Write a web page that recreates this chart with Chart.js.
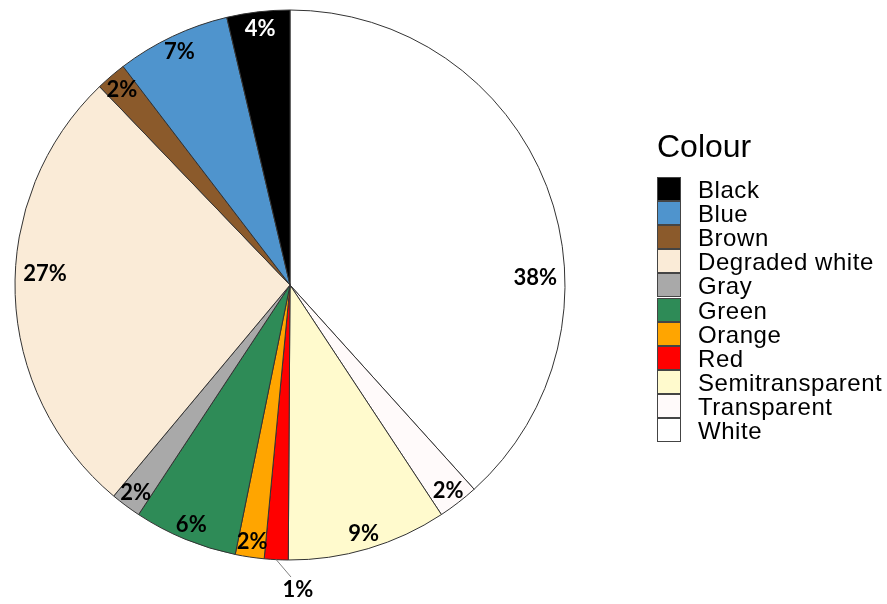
<!DOCTYPE html>
<html>
<head>
<meta charset="utf-8">
<script src="https://cdn.jsdelivr.net/npm/chart.js@4.4.1/dist/chart.umd.min.js"></script>
<style>
  html, body { margin: 0; padding: 0; background: #ffffff; }
  #wrap { position: relative; width: 887px; height: 604px; overflow: hidden; }
  #c { position: absolute; left: 0; top: 0; }
  #legend { position: absolute; left: 0; top: 0; font-family: "Liberation Sans", Arial, sans-serif; color: #000; }
  #legend .title { position: absolute; left: 657px; top: 130px; font-size: 32px; line-height: 32px; white-space: nowrap; }
  #legend .row { position: absolute; left: 657px; height: 24px; }
  #legend .box { position: absolute; left: 0; top: 0; width: 24px; height: 24px; box-sizing: border-box; border: 1px solid #444; }
  #legend .txt { position: absolute; left: 41px; top: 1px; font-size: 24px; line-height: 24px; letter-spacing: 0.55px; white-space: nowrap; }
</style>
</head>
<body>
<div id="wrap">
  <canvas id="c" width="887" height="604"></canvas>
  <div id="legend"></div>
</div>
<script>
// ---- data (legend order) ----
const categories = ['Black', 'Blue', 'Brown', 'Degraded white', 'Gray', 'Green', 'Orange', 'Red', 'Semitransparent', 'Transparent', 'White'];
const shares = [3.7, 6.7, 1.8, 26.8, 1.8, 6.1, 1.7, 1.4, 9.4, 2.4, 38.4];
const colours = ['#000000', '#4F94CD', '#8B5A2B', '#FAEBD7', '#A9A9A9', '#2E8B57', '#FFA500', '#FF0000', '#FFFACD', '#FFFAFA', '#FFFFFF'];
const legendTitle = 'Colour';

// pie is drawn clockwise from 12 o'clock in reverse legend order
const pieLabels = categories.slice().reverse();
const pieValues = shares.slice().reverse();
const pieColours = colours.slice().reverse();

const deg2canvas = d => d * Math.PI / 180 - Math.PI / 2;

const labelPlugin = {
  id: 'pctLabels',
  afterDatasetsDraw(chart, args, opts) {
    const ctx = chart.ctx;
    const meta = chart.getDatasetMeta(0);
    const data = chart.data.datasets[0].data;
    const total = data.reduce((a, b) => a + b, 0);
    ctx.save();
    ctx.font = opts.font;
    ctx.textAlign = 'center';
    ctx.textBaseline = 'middle';
    meta.data.forEach((arc, i) => {
      const p = arc.getProps(['x', 'y', 'startAngle', 'endAngle', 'outerRadius'], true);
      const name = chart.data.labels[i];
      const ov = opts.overrides[name] || {};
      const mid = (p.startAngle + p.endAngle) / 2;
      const ang = ov.angle !== undefined ? deg2canvas(ov.angle) : mid;
      const r = (ov.r !== undefined ? ov.r : opts.radius) * p.outerRadius;
      if (ov.leader) {
        const l = ov.leader;
        const la = deg2canvas(l.angle);
        ctx.strokeStyle = '#808080';
        ctx.lineWidth = 1;
        ctx.beginPath();
        ctx.moveTo(p.x + p.outerRadius * Math.cos(mid), p.y + p.outerRadius * Math.sin(mid));
        ctx.lineTo(p.x + l.r * p.outerRadius * Math.cos(la), p.y + l.r * p.outerRadius * Math.sin(la));
        ctx.stroke();
      }
      ctx.fillStyle = ov.color || '#000000';
      const txt = Math.round(data[i] / total * 100) + '%';
      ctx.fillText(txt, p.x + r * Math.cos(ang), p.y + r * Math.sin(ang) + 1);
    });
    ctx.restore();
  }
};

const chart = new Chart(document.getElementById('c'), {
  type: 'pie',
  data: {
    labels: pieLabels,
    datasets: [{
      data: pieValues,
      backgroundColor: pieColours,
      borderColor: '#333333',
      borderWidth: 1,
      hoverOffset: 0
    }]
  },
  options: {
    responsive: false,
    animation: false,
    radius: 275,
    layout: { padding: { left: 15, top: 10, right: 322, bottom: 44 } },
    plugins: {
      legend: { display: false },
      tooltip: { enabled: false },
      pctLabels: {
        font: 'bold 22px Lato, "DejaVu Sans", sans-serif',
        radius: 0.94,
        overrides: {
          'White': { angle: 88, r: 0.892 },
          'Degraded white': { angle: 272.9, r: 0.892 },
          'Black': { color: '#ffffff' },
          'Red': { angle: 178.5, r: 1.105, leader: { angle: 179.8, r: 1.062 } }
        }
      }
    }
  },
  plugins: [labelPlugin]
});

// ---- legend built from the same arrays ----
const leg = document.getElementById('legend');
const t = document.createElement('div');
t.className = 'title';
t.textContent = legendTitle;
leg.appendChild(t);
categories.forEach((name, i) => {
  const row = document.createElement('div');
  row.className = 'row';
  row.style.top = (177 + i * 24.1) + 'px';
  const b = document.createElement('div');
  b.className = 'box';
  b.style.background = colours[i];
  const s = document.createElement('div');
  s.className = 'txt';
  s.textContent = name;
  row.appendChild(b);
  row.appendChild(s);
  leg.appendChild(row);
});
</script>
</body>
</html>
